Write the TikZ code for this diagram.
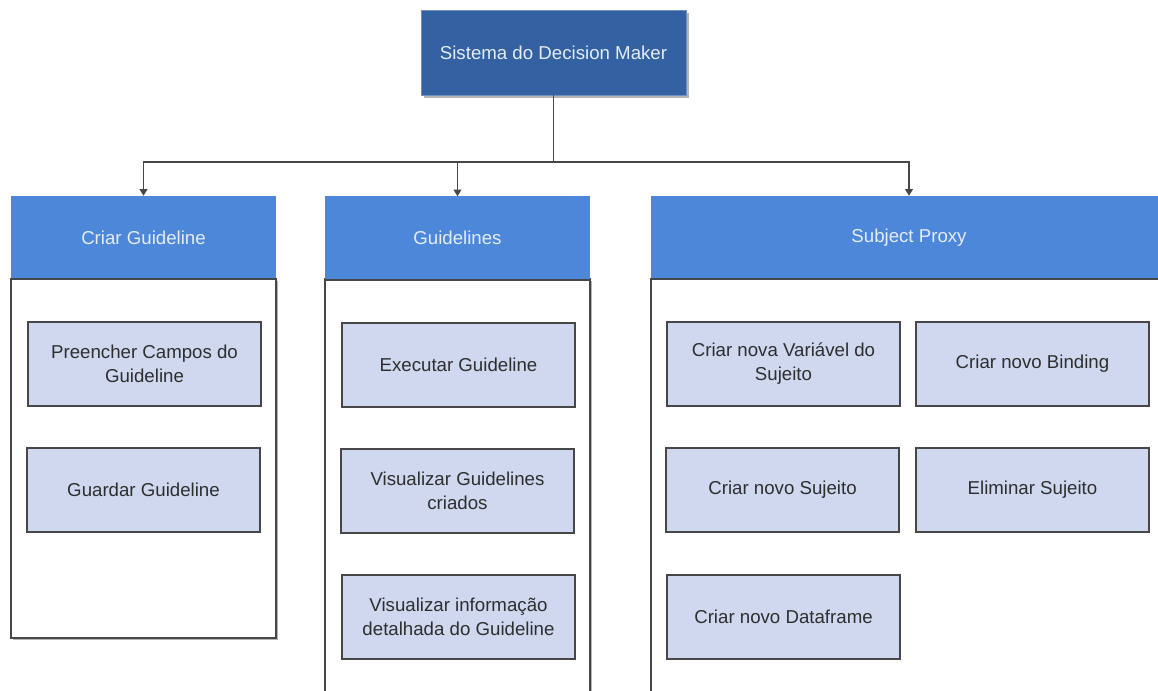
\documentclass[tikz,border=0pt]{standalone}
\usepackage{fontspec}
\setmainfont{Liberation Sans}
\usetikzlibrary{shadows,arrows.meta}
\definecolor{rootblue}{HTML}{3461A1}
\definecolor{headblue}{HTML}{4D87D9}
\definecolor{itemfill}{HTML}{D0D8F0}
\definecolor{edgegray}{HTML}{474747}
\definecolor{inktext}{HTML}{2E2E2E}
\definecolor{lighttext}{HTML}{E4ECFA}
\definecolor{shadegray}{HTML}{B4B4B4}
\tikzset{
  basefont/.style={font=\fontsize{14}{18}\selectfont},
  rootbox/.style={basefont, rectangle, fill=rootblue, draw=rootblue!70!white, line width=0.6pt,
    text=lighttext, minimum width=198.75pt, minimum height=63.75pt, inner sep=0pt,
    drop shadow={shadow xshift=2.2pt, shadow yshift=-2.2pt, fill=shadegray, opacity=1}},
  headbox/.style={basefont, rectangle, fill=headblue, text=lighttext,
    minimum height=62.25pt, inner sep=0pt},
  bodybox/.style={rectangle, fill=white, draw=edgegray, line width=0.9pt, inner sep=0pt,
    drop shadow={shadow xshift=1.8pt, shadow yshift=-1.8pt, fill=shadegray, opacity=1}},
  itembox/.style={basefont, rectangle, fill=itemfill, draw=edgegray, line width=1.1pt,
    text=inktext, align=center, minimum width=174.75pt, minimum height=63pt, inner sep=0pt},
  link/.style={draw=edgegray, line width=0.8pt},
  linkarrow/.style={link, -{Triangle[length=5pt,width=6pt]}},
}
\begin{document}
\begin{tikzpicture}[x=0.75pt, y=-0.75pt]
  \useasboundingbox (0,0) rectangle (1158,691);
  \clip (0,0) rectangle (1158,691);
  \fill[white] (0,0) rectangle (1158,691);

  % root of the hierarchy
  \node[rootbox] (root) at (553.5,52.5) {Sistema do Decision Maker};

  % container bodies
  \node[bodybox, minimum width=198.75pt, minimum height=269.25pt] (body1) at (143.5,458.5) {};
  \node[bodybox, minimum width=198.75pt, minimum height=315.75pt] (body2) at (457.5,489.5) {};
  \node[bodybox, minimum width=387pt, minimum height=315.75pt] (body3) at (909,489.5) {};

  % container headers
  \node[headbox, minimum width=198.75pt] (head1) at (143.5,237.5) {Criar Guideline};
  \node[headbox, minimum width=198.75pt] (head2) at (457.5,238) {Guidelines};
  \node[headbox, minimum width=387pt] (head3) at (909,237.5) {Subject Proxy};
  \draw[edgegray, line width=1.2pt] (head1.south west) -- (head1.south east);
  \draw[edgegray, line width=1.2pt] (head2.south west) -- (head2.south east);
  \draw[edgegray, line width=1.2pt] (head3.south west) -- (head3.south east);

  % items: Criar Guideline
  \node[itembox] (fill) at (144.5,364) {Preencher Campos do\\Guideline};
  \node[itembox] (save) at (143.5,490) {Guardar Guideline};

  % items: Guidelines
  \node[itembox] (run)  at (458.5,365) {Executar Guideline};
  \node[itembox] (list) at (457.5,491) {Visualizar Guidelines\\criados};
  \node[itembox] (info) at (458.5,617) {Visualizar informação\\detalhada do Guideline};

  % items: Subject Proxy
  \node[itembox] (var)   at (783.5,364)  {Criar nova Variável do\\Sujeito};
  \node[itembox] (bind)  at (1032.5,364) {Criar novo Binding};
  \node[itembox] (subj)  at (782.5,490)  {Criar novo Sujeito};
  \node[itembox] (del)   at (1032.5,490) {Eliminar Sujeito};
  \node[itembox] (frame) at (783.5,617)  {Criar novo Dataframe};

  % connectors from the root to each header
  \coordinate (split) at (553.5,162);
  \draw[link] (root.south) -- (split);
  \draw[linkarrow] (split) -| (head1.north);
  \draw[linkarrow] (split) -| (head2.north);
  \draw[linkarrow] (split) -| (head3.north);
\end{tikzpicture}
\end{document}
